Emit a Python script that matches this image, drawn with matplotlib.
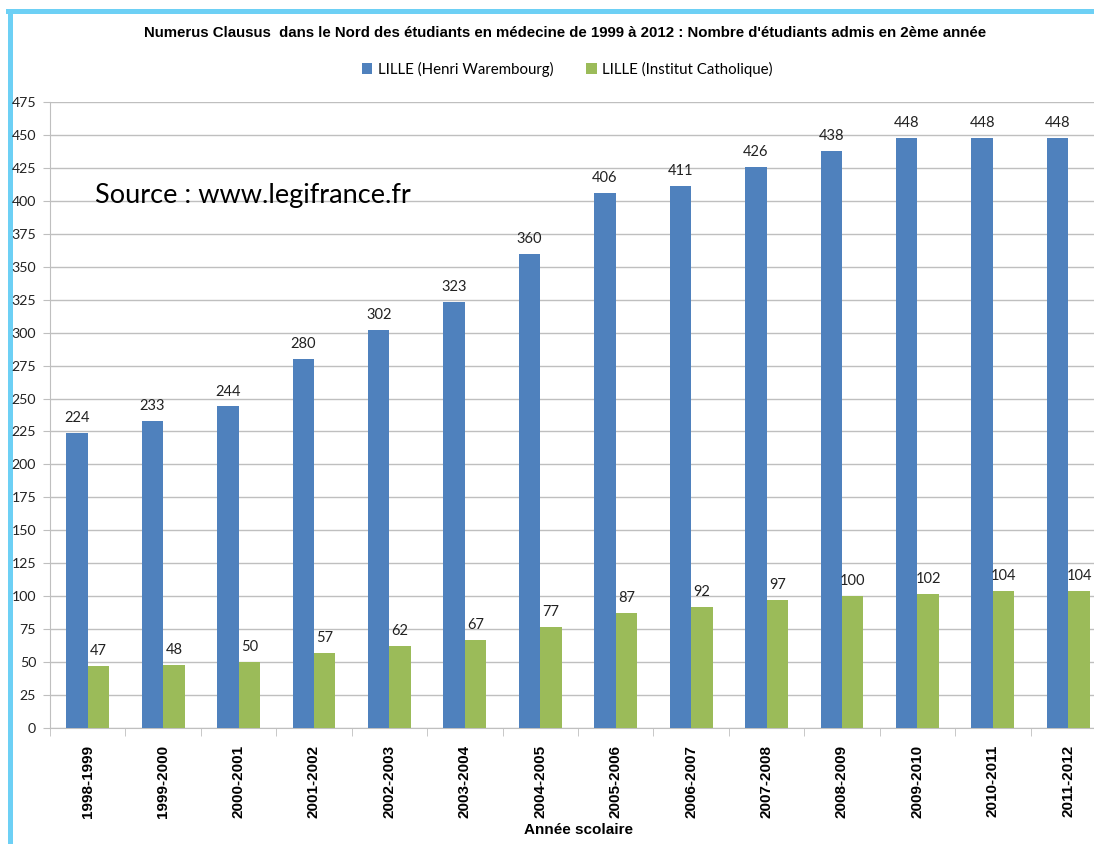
import numpy as np
import matplotlib.pyplot as plt
from matplotlib.lines import Line2D

years = ['1998-1999', '1999-2000', '2000-2001', '2001-2002', '2002-2003',
         '2003-2004', '2004-2005', '2005-2006', '2006-2007', '2007-2008',
         '2008-2009', '2009-2010', '2010-2011', '2011-2012']
lille_hw = [224, 233, 244, 280, 302, 323, 360, 406, 411, 426, 438, 448, 448, 448]
lille_ic = [47, 48, 50, 57, 62, 67, 77, 87, 92, 97, 100, 102, 104, 104]

blue = '#4F81BD'
green = '#9BBB59'
grey = '#BFBFBF'
calib = ['Lato', 'DejaVu Sans']
arial = ['Liberation Sans', 'DejaVu Sans']

fig = plt.figure(figsize=(10.94, 8.44), dpi=100)
ax = fig.add_axes([50/1094, 1-728/844, 1056/1094, 626/844])

x = np.arange(len(years))
w = 0.285
b1 = ax.bar(x - w/2, lille_hw, w, color=blue, label='LILLE (Henri Warembourg)', zorder=3)
b2 = ax.bar(x + w/2, lille_ic, w, color=green, label='LILLE (Institut Catholique)', zorder=3)

for bars in (b1, b2):
    for r in bars:
        ax.text(r.get_x() + r.get_width()/2, r.get_height() + 6, str(int(r.get_height())),
                ha='center', va='bottom', fontsize=10.5, family=calib, color='#222222')

ax.set_xlim(-0.5, len(years) - 0.5)
ax.set_ylim(0, 475)
ax.set_yticks(np.arange(0, 476, 25))
ax.yaxis.grid(True, color=grey, lw=1, zorder=0)
ax.set_axisbelow(True)
for s in ['top', 'right']:
    ax.spines[s].set_visible(False)
for s in ['left', 'bottom']:
    ax.spines[s].set_color(grey)
ax.tick_params(axis='y', colors=grey, length=5, pad=5, labelsize=10.2, labelcolor='#222222')
for t in ax.get_yticklabels():
    t.set_family(calib)

ax.set_xticks(x)
ax.set_xticklabels(years, rotation=90, fontsize=11, fontweight='bold', family=arial)
ax.tick_params(axis='x', length=0, pad=12)
ax.set_xticks(np.arange(-0.5, len(years)), minor=True)
ax.tick_params(axis='x', which='minor', length=6, color=grey)
ax.set_xlabel('Année scolaire', fontsize=11, fontweight='bold', family=arial, labelpad=4)

fig.text(565/1094, 1-33/844, "Numerus Clausus  dans le Nord des étudiants en médecine de 1999 à 2012 : Nombre d'étudiants admis en 2ème année",
         ha='center', va='center', fontsize=10.8, fontweight='bold', family=arial)
fig.legend(handles=[b1, b2], loc='center', bbox_to_anchor=(567/1094, 1-69/844), ncol=2,
           frameon=False, prop={'family': calib, 'size': 10.8},
           handlelength=0.7, handleheight=0.7, columnspacing=2.2, handletextpad=0.35)

ax.text(95/1094, 1-195/844, 'Source : www.legifrance.fr', transform=fig.transFigure,
        fontsize=19.5, family=calib, va='center', ha='left')

fig.add_artist(Line2D([9.5/1094, 9.5/1094], [0, 1-10.5/844], transform=fig.transFigure,
                      color='#6DD0F5', lw=3.6, zorder=-1))
fig.add_artist(Line2D([7.5/1094, 1], [1-10.5/844, 1-10.5/844], transform=fig.transFigure,
                      color='#6DD0F5', lw=3.6, zorder=-1))

fig.savefig('out.png', dpi=100)
